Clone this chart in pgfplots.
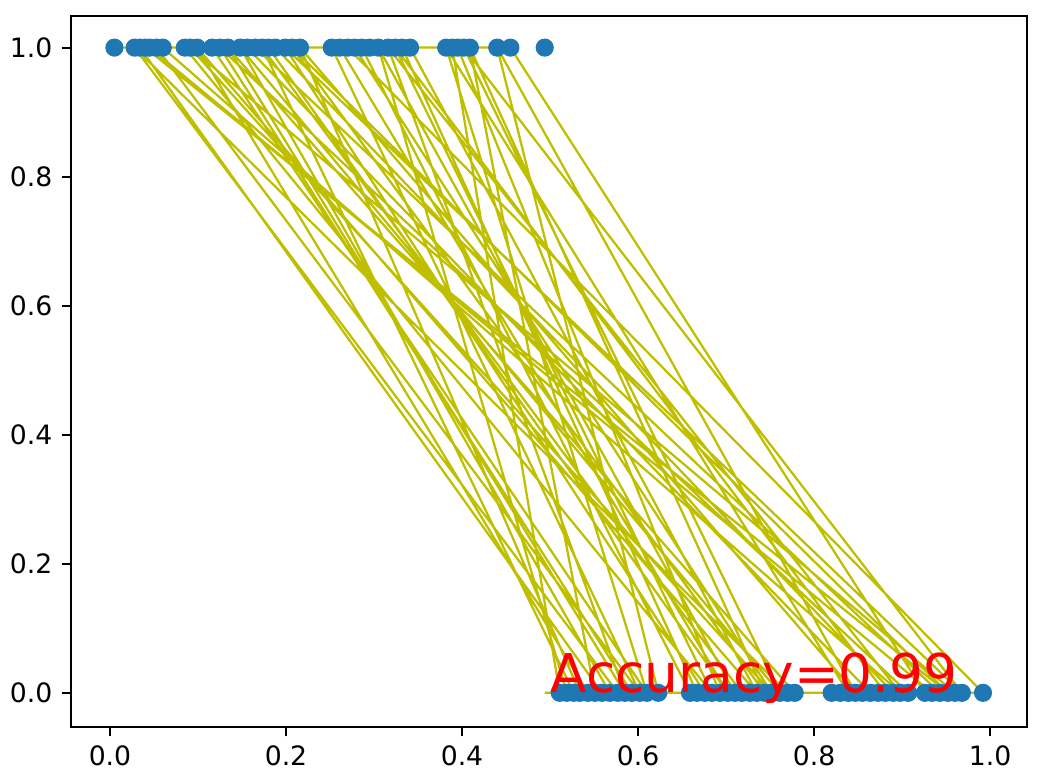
\documentclass[border=0pt]{standalone}
\usepackage{fontspec}
\setmainfont{DejaVu Sans}
\usepackage{pgfplots}
\pgfplotsset{compat=1.18}
\definecolor{mplblue}{HTML}{1F77B4}
\definecolor{mplyellow}{rgb}{0.75,0.75,0}
\begin{document}
\begin{tikzpicture}
\useasboundingbox (-26.625pt,-18.75pt) rectangle ++(391.875pt,291.375pt);
\begin{axis}[
  at={(0,0)}, anchor=south west,
  scale only axis, width=358.5pt, height=266.625pt,
  xmin=-0.0443, xmax=1.042, ymin=-0.053, ymax=1.049,
  xtick={0,0.2,0.4,0.6,0.8,1.0}, ytick={0,0.2,0.4,0.6,0.8,1.0},
  xtick pos=bottom, ytick pos=left, tick align=outside,
  major tick length=3.5pt,
  every tick/.style={black, line width=0.8pt},
  axis line style={line width=0.8pt},
  tick label style={font=\fontsize{10pt}{12pt}\selectfont},
  /pgf/number format/assume math mode=true,
  /pgf/number format/.cd, fixed, fixed zerofill, precision=1,
]
% scatter: class 1 (y=1), including misclassified point at 0.494
\addplot[only marks, mark=*, mark size=3.2pt, color=mplblue, draw=none, fill=mplblue,
  mark options={draw=none, fill=mplblue}] coordinates {
(0.005,1)(0.028,1)(0.034,1)(0.040,1)(0.045,1)(0.053,1)(0.060,1)(0.085,1)(0.091,1)(0.099,1)
(0.116,1)(0.125,1)(0.134,1)(0.148,1)(0.156,1)(0.165,1)(0.173,1)(0.180,1)(0.188,1)(0.199,1)
(0.207,1)(0.216,1)(0.252,1)(0.261,1)(0.270,1)(0.278,1)(0.286,1)(0.295,1)(0.305,1)(0.316,1)
(0.324,1)(0.332,1)(0.341,1)(0.382,1)(0.389,1)(0.395,1)(0.402,1)(0.409,1)(0.440,1)(0.455,1)
(0.494,1)
};
% scatter: class 0 (y=0)
\addplot[only marks, mark=*, mark size=3.2pt, color=mplblue, draw=none, fill=mplblue,
  mark options={draw=none, fill=mplblue}] coordinates {
(0.511,0)(0.519,0)(0.527,0)(0.534,0)(0.543,0)(0.551,0)(0.559,0)(0.568,0)(0.577,0)(0.585,0)
(0.593,0)(0.602,0)(0.610,0)(0.623,0)(0.659,0)(0.667,0)(0.676,0)(0.684,0)(0.693,0)(0.702,0)
(0.710,0)(0.718,0)(0.727,0)(0.735,0)(0.744,0)(0.752,0)(0.761,0)(0.770,0)(0.778,0)(0.820,0)
(0.830,0)(0.839,0)(0.847,0)(0.855,0)(0.864,0)(0.873,0)(0.881,0)(0.890,0)(0.898,0)(0.907,0)
(0.926,0)(0.934,0)(0.943,0)(0.952,0)(0.960,0)(0.968,0)(0.992,0)
};
% predictions in original (unsorted) order
\addplot[mplyellow, line width=0.85pt, no marks] coordinates {
(0.053,1)(0.602,0)(0.252,1)(0.455,1)(0.926,0)(0.718,0)(0.173,1)(0.527,0)(0.839,0)(0.382,1)
(0.610,0)(0.116,1)(0.295,1)(0.045,1)(0.934,0)(0.727,0)(0.534,0)(0.216,1)(0.847,0)(0.440,1)
(0.623,0)(0.943,0)(0.165,1)(0.341,1)(0.735,0)(0.099,1)(0.543,0)(0.855,0)(0.659,0)(0.286,1)
(0.040,1)(0.952,0)(0.207,1)(0.744,0)(0.409,1)(0.551,0)(0.864,0)(0.156,1)(0.332,1)(0.667,0)
(0.960,0)(0.091,1)(0.752,0)(0.278,1)(0.034,1)(0.559,0)(0.873,0)(0.676,0)(0.199,1)(0.968,0)
(0.402,1)(0.761,0)(0.148,1)(0.568,0)(0.881,0)(0.324,1)(0.684,0)(0.085,1)(0.270,1)(0.992,0)
(0.770,0)(0.028,1)(0.577,0)(0.890,0)(0.188,1)(0.395,1)(0.693,0)(0.494,0)(0.778,0)(0.134,1)
(0.585,0)(0.316,1)(0.898,0)(0.060,1)(0.261,1)(0.702,0)(0.180,1)(0.005,1)(0.389,1)(0.511,0)
(0.820,0)(0.593,0)(0.125,1)(0.907,0)(0.710,0)(0.305,1)(0.519,0)(0.830,0)
};
\coordinate (acc) at (axis cs:0.5,0);
\end{axis}
\node[anchor=base west, inner sep=0pt, text=red, font=\fontsize{20pt}{24pt}\selectfont] at (acc) {Accuracy=0.99};
\end{tikzpicture}
\end{document}
